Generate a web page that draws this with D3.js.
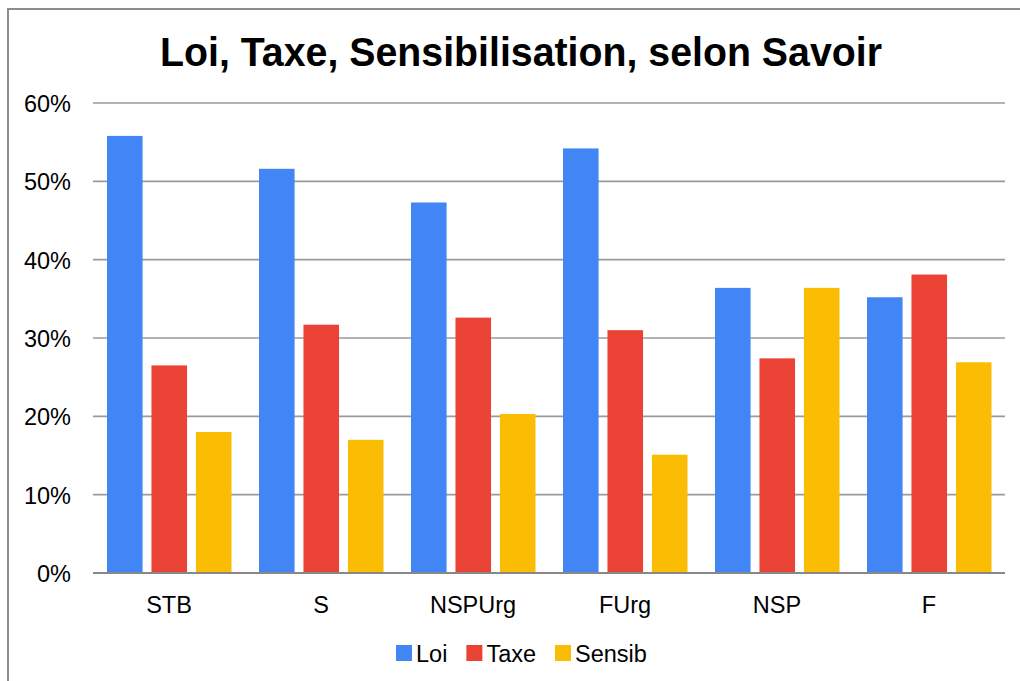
<!DOCTYPE html>
<html>
<head>
<meta charset="utf-8">
<script src="https://cdn.jsdelivr.net/npm/d3@7"></script>
<style>
  html, body { margin: 0; padding: 0; background: #fff; overflow: hidden; }
  svg { display: block; font-family: "Liberation Sans", Arial, sans-serif; }
</style>
</head>
<body>
<svg id="chart" width="1020" height="681"></svg>
<script>
// Survey shares by knowledge level
const categories = ["STB", "S", "NSPUrg", "FUrg", "NSP", "F"];
const seriesNames = ["Loi", "Taxe", "Sensib"];
const loi    = [55.8, 51.6, 47.3, 54.2, 36.4, 35.2];
const taxe   = [26.5, 31.7, 32.6, 31.0, 27.4, 38.1];
const sensib = [18.0, 17.0, 20.3, 15.1, 36.4, 26.9];
const yTicks = [0, 10, 20, 30, 40, 50, 60];
const colors = ["#4285f4", "#ea4335", "#fbbc04"];
const title = "Loi, Taxe, Sensibilisation, selon Savoir";

const seriesValues = [loi, taxe, sensib];

const svg = d3.select("#chart");

// chart frame: left and top edges only
svg.append("path")
  .attr("d", "M8,681 L8,9 L1020,9")
  .attr("fill", "none")
  .attr("stroke", "#8c8c8c")
  .attr("stroke-width", 2);

const plotLeft = 93, plotRight = 1005, plotTop = 103, plotBottom = 573;

const x0 = d3.scaleBand().domain(categories).range([plotLeft, plotRight]).padding(0);
const x1 = d3.scaleBand().domain(seriesNames).range([14, 138.5]).paddingInner(0.2).paddingOuter(0);
const y = d3.scaleLinear().domain([0, 60]).range([plotBottom, plotTop]);

// gridlines
svg.append("g")
  .selectAll("line")
  .data(yTicks.filter(t => t !== 0))
  .join("line")
  .attr("x1", plotLeft).attr("x2", plotRight)
  .attr("y1", d => y(d)).attr("y2", d => y(d))
  .attr("stroke", "#9a9a9a")
  .attr("stroke-width", 1.6);

// y-axis labels
const yAxis = d3.axisLeft(y).tickValues(yTicks).tickFormat(d => d + "%").tickSize(0).tickPadding(0);
const gy = svg.append("g").attr("transform", `translate(71,0)`).call(yAxis);
gy.select(".domain").remove();
gy.selectAll("text")
  .attr("font-size", 23.5)
  .attr("fill", "#000")
  .attr("font-family", "Liberation Sans, Arial, sans-serif")
  .attr("dy", "0.36em");

// bars
const groups = svg.append("g")
  .selectAll("g")
  .data(categories)
  .join("g")
  .attr("transform", d => `translate(${x0(d)},0)`);

groups.selectAll("rect")
  .data((c, i) => seriesNames.map((s, k) => ({ s, k, v: seriesValues[k][i] })))
  .join("rect")
  .attr("x", d => x1(d.s))
  .attr("width", x1.bandwidth())
  .attr("y", d => y(d.v))
  .attr("height", d => y(0) - y(d.v))
  .attr("fill", d => colors[d.k]);

// baseline
svg.append("line")
  .attr("x1", plotLeft).attr("x2", plotRight)
  .attr("y1", y(0)).attr("y2", y(0))
  .attr("stroke", "#888")
  .attr("stroke-width", 2.2);

// x-axis labels
const xAxis = d3.axisBottom(x0).tickSize(0).tickPadding(0);
const gx = svg.append("g").attr("transform", `translate(0,${y(0)})`).call(xAxis);
gx.select(".domain").remove();
gx.selectAll("text")
  .attr("font-size", 23.5)
  .attr("fill", "#000")
  .attr("font-family", "Liberation Sans, Arial, sans-serif")
  .attr("dy", 0)
  .attr("y", 40);

// title
svg.append("text")
  .attr("x", 521).attr("y", 66)
  .attr("text-anchor", "middle")
  .attr("font-size", 41)
  .attr("font-weight", "bold")
  .attr("fill", "#000")
  .attr("textLength", 722)
  .attr("lengthAdjust", "spacingAndGlyphs")
  .text(title);

// legend
const legend = svg.append("g");
let lx = 396;
seriesNames.forEach((name, k) => {
  legend.append("rect")
    .attr("x", lx).attr("y", 645)
    .attr("width", 16).attr("height", 16)
    .attr("fill", colors[k]);
  const t = legend.append("text")
    .attr("x", lx + 20).attr("y", 662)
    .attr("font-size", 23.5)
    .attr("fill", "#000")
    .text(name);
  lx += 20 + t.node().getComputedTextLength() + 19;
});
</script>
</body>
</html>
